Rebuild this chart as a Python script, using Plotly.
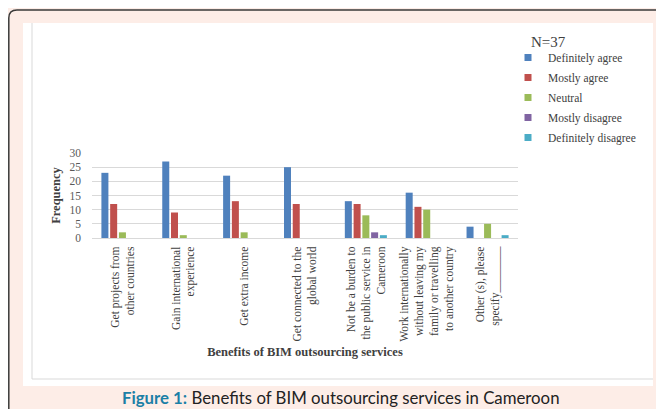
import plotly.graph_objects as go

categories = [
    "Get projects from<br>other countries",
    "Gain international<br>experience",
    "Get extra income",
    "Get connected to the<br>global world",
    "Not be a burden to<br>the public service in<br>Cameroon",
    "Work internationally<br>without leaving my<br>family or travelling<br>to another country",
    "Other (s), please<br>specify________",
]
series_names = ["Definitely agree", "Mostly agree", "Neutral", "Mostly disagree", "Definitely disagree"]
definitely_agree = [23, 27, 22, 25, 13, 16, 4]
mostly_agree = [12, 9, 13, 12, 12, 11, 0]
neutral = [2, 1, 2, 0, 8, 10, 5]
mostly_disagree = [0, 0, 0, 0, 2, 0, 0]
definitely_disagree = [0, 0, 0, 0, 1, 0, 1]
y_ticks = [0, 5, 10, 15, 20, 25, 30]

colors = ["#4F81BD", "#C0504D", "#9BBB59", "#8064A2", "#4BACC6"]
values = [definitely_agree, mostly_agree, neutral, mostly_disagree, definitely_disagree]

# The page body has an 8px margin, so the figure is 8px smaller than the window.
OFF = 8
W, H = 664 - OFF, 409 - OFF
L, R, T, B = 92, 518, 153, 238  # plot area in window pixels


def px(x):
    return (x - L) / (R - L)


def py(y):
    return (B - y) / (B - T)


SERIF = "Liberation Serif"

fig = go.Figure()
for name, vals, col in zip(series_names, values, colors):
    fig.add_trace(go.Bar(name=name, x=categories, y=vals, legendgroup=name, showlegend=False,
                         marker=dict(color=col, line=dict(width=0))))
# legend entries with small square keys
for name, col in zip(series_names, colors):
    fig.add_trace(go.Scatter(name=name, x=[None], y=[None], mode="markers", legendgroup=name,
                             marker=dict(symbol="square", size=7, color=col), showlegend=True,
                             hoverinfo="skip"))

shapes = [
    dict(type="rect", xref="paper", yref="paper", x0=px(23), x1=px(653), y0=py(386), y1=py(23),
         fillcolor="white", line=dict(width=0), layer="below"),
    dict(type="line", xref="paper", yref="paper", x0=px(32), x1=px(32), y0=py(379), y1=py(23),
         line=dict(color="#d9d9d9", width=1), layer="below"),
    dict(type="line", xref="paper", yref="paper", x0=px(32), x1=px(653), y0=py(379), y1=py(379),
         line=dict(color="#d9d9d9", width=1), layer="below"),
    dict(type="path", xref="paper", yref="paper",
         path=f"M {px(8.8)},{py(420)} L {px(8.8)},{py(18)} Q {px(8.8)},{py(10)} {px(17)},{py(10)} L {px(680)},{py(10)}",
         line=dict(color="#3a3a3a", width=1.5), layer="below"),
]

annotations = [
    dict(text="N=37", xref="paper", yref="paper", x=px(529), y=py(42), xanchor="left", yanchor="middle",
         showarrow=False, font=dict(family=SERIF, size=15, color="#404040")),
    dict(text="<b><span style='color:#1b7fa6'>Figure 1:</span></b> Benefits of BIM outsourcing services in Cameroon",
         xref="paper", yref="paper", x=px(341), y=py(408.5), xanchor="center", yanchor="bottom",
         showarrow=False, borderpad=0, font=dict(family="Lato", size=16.8, color="#222222")),
]

fig.update_layout(
    width=W, height=H,
    margin=dict(l=L - OFF, r=W - (R - OFF), t=T - OFF, b=H - (B - OFF), autoexpand=False),
    paper_bgcolor="#fdede7",
    plot_bgcolor="rgba(0,0,0,0)",
    barmode="group",
    bargap=0.28,
    bargroupgap=0.2,
    shapes=shapes,
    annotations=annotations,
    showlegend=True,
    legend=dict(x=px(508), y=py(43), xanchor="left", yanchor="top",
                font=dict(family=SERIF, size=11.5, color="#404040"),
                bgcolor="rgba(0,0,0,0)", traceorder="grouped", tracegroupgap=1),
    font=dict(family=SERIF, color="#404040"),
)

fig.update_yaxes(
    range=[0, 30], tickvals=y_ticks, showgrid=True, gridcolor="#d9d9d9", gridwidth=1,
    zeroline=False, showline=False,
    tickfont=dict(family=SERIF, size=11.5, color="#595959"),
    ticklabelstandoff=10,
    title=dict(text="<b>Frequency</b>", font=dict(family=SERIF, size=12.5, color="#404040"), standoff=6),
    automargin=False,
)
fig.update_xaxes(
    tickangle=-90, showline=True, linecolor="#d9d9d9", linewidth=1,
    tickfont=dict(family=SERIF, size=11.5, color="#404040"),
    ticks="outside", ticklen=3, tickcolor="rgba(0,0,0,0)",
    title=dict(text="<b>Benefits of BIM outsourcing services</b>",
               font=dict(family=SERIF, size=12.5, color="#404040"), standoff=6),
    automargin=False,
)

fig.write_html("out.html")
